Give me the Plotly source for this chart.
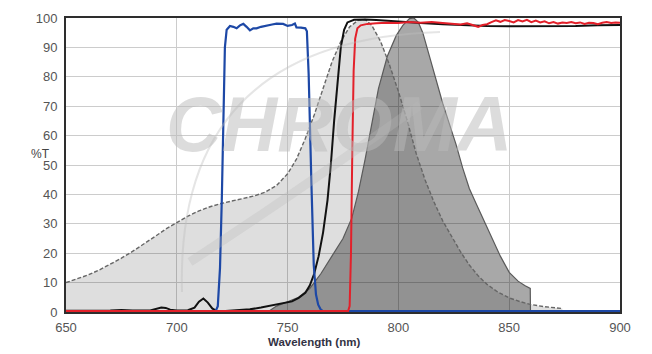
import plotly.graph_objects as go

# ---------------- data ----------------
exc_nm = [650, 655, 660, 665, 670, 675, 680, 685, 690, 695, 700, 705, 710, 715, 720, 725, 730, 735,
          740, 745, 750, 754, 758, 762, 766, 770, 774, 778, 782, 785, 788, 792, 796, 800, 804, 808,
          812, 816, 820, 824, 828, 832, 836, 840, 845, 850, 855, 860, 866, 874]
exc_t = [10, 11.2, 12.6, 14.3, 16.2, 18.3, 20.6, 23, 25.6, 28.2, 30.5, 32.6, 34.4, 35.8, 36.9, 37.8, 38.6, 39.5,
         40.8, 43, 47, 52, 59, 67, 76, 85, 92, 97, 99.3, 99.5, 97.5, 92, 84, 75, 65, 54,
         45, 37.5, 31, 25.5, 20.5, 16, 12.3, 9.4, 6.7, 4.8, 3.5, 2.5, 1.8, 1.2]

em_nm = [742, 745, 750, 755, 760, 765, 770, 775, 779, 782, 785, 788, 791, 795, 799, 802, 805, 807,
         809, 811, 814, 817, 820, 823, 826, 829, 832, 835, 838, 842, 846, 850, 854, 857, 859.5, 859.6]
em_t = [0.5, 2, 3.5, 5, 8, 13, 19, 25, 32, 41, 52, 64, 76, 87, 94, 97.5, 99.8, 100,
        98.5, 95, 87, 79, 71, 64, 57, 49, 42, 37, 32, 25.5, 19, 13.5, 10.5, 9, 8, 0]

black_nm = [650, 660, 670, 675, 680, 688, 691, 693, 695, 697, 700, 705, 708, 710, 712, 714, 716, 718,
            722, 728, 733, 738, 743, 748, 752, 755, 758, 760, 762, 764, 766, 768, 769.5, 771, 772.5,
            774, 775.5, 777, 780, 785, 790, 795, 800, 810, 820, 830, 840, 850, 860, 870, 880, 890, 900]
black_t = [0.4, 0.4, 0.5, 0.7, 0.5, 0.5, 1.0, 1.5, 1.4, 0.8, 0.5, 0.6, 1.5, 3.5, 4.6, 3.2, 1.2, 0.3,
           0.3, 0.5, 0.9, 1.5, 2.3, 3.0, 3.6, 4.8, 6.5, 9, 13, 19, 27, 38, 50, 65, 78,
           90, 96, 98.5, 99.4, 99.5, 99.3, 99.0, 98.7, 98.3, 97.9, 97.5, 97.3, 97.2, 97.2, 97.3, 97.3, 97.5, 97.6]

blue_nm = [650, 717.5, 718.5, 719.5, 720.3, 721, 721.7, 722.5, 724, 725.5, 727, 728.5, 730, 731.5, 733,
           734.5, 736, 738, 740.5, 743, 745, 747, 748, 750, 752, 753.3, 754, 756, 758, 758.7, 759.5,
           760.7, 761.8, 762.8, 763.8, 765, 766, 900]
blue_t = [0.3, 0.3, 2, 15, 38, 65, 90, 96, 97.3, 97, 96.5, 97.5, 98, 97, 95.8,
          96.5, 96.5, 97, 97.3, 97.8, 98.1, 98.2, 98, 97.3, 97.6, 98.1, 96.8, 96.7, 96.5, 95.5, 81,
          45, 16, 6, 2.5, 0.8, 0.3, 0.3]

red_nm = [650, 777.3, 778, 778.6, 779.2, 779.8, 780.5, 781.5, 783, 786, 790, 795, 800, 805, 810, 815,
          820, 825, 828, 831, 834, 836, 838, 840, 842, 844, 846, 848, 850, 852, 854, 856, 858, 860,
          862, 864, 866, 868, 870, 872, 874, 876, 878, 880, 882, 884, 886, 888, 890, 892, 894, 896, 898, 900]
red_t = [0.3, 0.3, 2, 20, 55, 82, 93, 96.5, 97.5, 98, 98.2, 98.4, 98.3, 98.6, 98.4, 98.6,
         98.3, 98.1, 97.8, 98.2, 97.4, 97.0, 97.6, 97.9, 98.6, 99.2, 98.7, 99.3, 99.0, 98.5, 99.3, 98.8, 99.4, 98.6,
         99.1, 98.5, 98.9, 98.2, 98.6, 98.1, 98.5, 98.3, 98.6, 98.2, 98.5, 98.0, 98.4, 98.3, 97.9, 98.4, 98.6, 98.3, 98.5, 98.4]

x_ticks = [650, 700, 750, 800, 850, 900]
y_ticks = [0, 10, 20, 30, 40, 50, 60, 70, 80, 90, 100]

# ---------------- figure ----------------
fig = go.Figure()

# excitation spectrum (light fill)
fig.add_trace(go.Scatter(x=exc_nm, y=exc_t, mode="lines", fill="tozeroy",
                         fillcolor="rgba(0,0,0,0.13)", line=dict(width=0),
                         hoverinfo="skip", showlegend=False))
# emission spectrum (dark fill)
fig.add_trace(go.Scatter(x=em_nm, y=em_t, mode="lines", fill="tozeroy",
                         fillcolor="rgba(0,0,0,0.34)", line=dict(color="#5a5a5a", width=1.2),
                         hoverinfo="skip", showlegend=False))
# excitation outline (dashed)
fig.add_trace(go.Scatter(x=exc_nm, y=exc_t, mode="lines",
                         line=dict(color="#666666", width=1.4, dash="4px,2px"),
                         hoverinfo="skip", showlegend=False))
# dichroic (black)
fig.add_trace(go.Scatter(x=black_nm, y=black_t, mode="lines",
                         line=dict(color="#111111", width=2), showlegend=False))
# exciter (blue)
fig.add_trace(go.Scatter(x=blue_nm, y=blue_t, mode="lines",
                         line=dict(color="#1d48a6", width=2.2), showlegend=False))
# emitter (red)
fig.add_trace(go.Scatter(x=red_nm, y=red_t, mode="lines",
                         line=dict(color="#e3202a", width=2), showlegend=False))

W, H = 652, 354
L, R, T, B = 66, 32, 18, 42
pw, ph = W - L - R, H - T - B


def px(xp):
    return (xp - L) / pw


def py(yp):
    return (H - B - yp) / ph


# watermark
fig.add_annotation(text="CHROMA", xref="paper", yref="paper", x=px(339), y=py(124),
                   xanchor="center", yanchor="middle", showarrow=False,
                   font=dict(family="Liberation Sans", size=77, color="rgba(185,185,185,0.5)",
                             weight="bold", style="italic"))
fig.add_shape(type="path", xref="paper", yref="paper", layer="above",
              path=f"M {px(182)},{py(292)} Q {px(175)},{py(40)} {px(440)},{py(32)}",
              line=dict(color="rgba(190,190,190,0.4)", width=2))
fig.add_shape(type="path", xref="paper", yref="paper", layer="above",
              path=f"M {px(190)},{py(262)} Q {px(300)},{py(190)} {px(420)},{py(105)}",
              line=dict(color="rgba(185,185,185,0.3)", width=9))

# axis labels
fig.add_annotation(text="%T", xref="paper", yref="paper", x=px(40), y=py(154),
                   xanchor="center", yanchor="middle", showarrow=False,
                   font=dict(family="Liberation Sans", size=12, color="#444444"))
fig.add_annotation(text="<b>Wavelength (nm)</b>", xref="paper", yref="paper", x=px(314), y=py(342),
                   xanchor="center", yanchor="middle", showarrow=False,
                   font=dict(family="Liberation Sans", size=11.5, color="#333344"))

fig.update_layout(
    width=W, height=H,
    margin=dict(l=L, r=R, t=T, b=B, pad=0),
    paper_bgcolor="white", plot_bgcolor="white",
    font=dict(family="Liberation Sans", size=13, color="#555555"),
    xaxis=dict(range=[650, 900], tickvals=x_ticks, ticktext=[str(v) for v in x_ticks],
               showgrid=True, gridcolor="#cccccc", gridwidth=1, zeroline=False,
               showline=True, linecolor="#2e2e2e", linewidth=2, mirror=True,
               ticks="", ticklabelstandoff=2, layer="below traces", fixedrange=True),
    yaxis=dict(range=[0, 100], tickvals=y_ticks, ticktext=[str(v) for v in y_ticks],
               showgrid=True, gridcolor="#cccccc", gridwidth=1, zeroline=False,
               showline=True, linecolor="#2e2e2e", linewidth=2, mirror=True,
               ticks="", ticklabelstandoff=4, layer="below traces", fixedrange=True),
    showlegend=False,
)

fig.write_html("out.html")
